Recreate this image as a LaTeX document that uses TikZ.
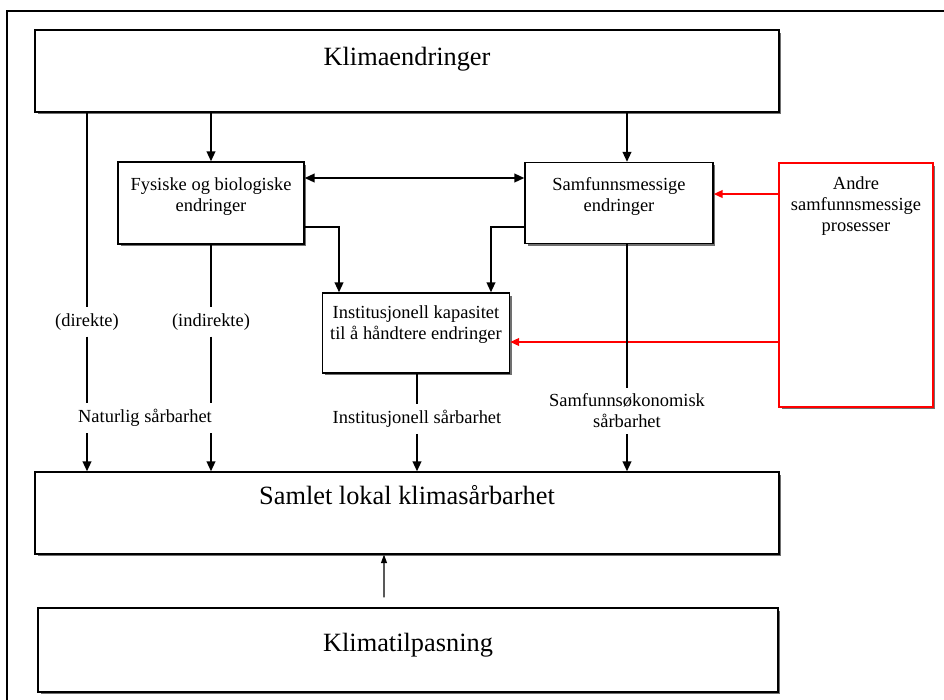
\documentclass[tikz,border=0pt]{standalone}
\usepackage{fontspec}
\setmainfont{Liberation Serif}
\usetikzlibrary{shadows}
\usetikzlibrary{arrows.meta}

\begin{document}
\begin{tikzpicture}
  [x=0.02cm,y=-0.02cm,
  box/.style={rectangle,draw=black,fill=white,line width=0.7pt,inner sep=0pt,align=center,
    drop shadow={shadow xshift=0.05cm,shadow yshift=-0.05cm,fill=black!70,opacity=0.8}},
  bigbox/.style={box,font=\fontsize{15}{18}\selectfont},
  smallbox/.style={box,font=\fontsize{10.5}{12}\selectfont},
  redbox/.style={smallbox,draw=red},
  lab/.style={font=\fontsize{10.5}{12}\selectfont,align=center,inner xsep=2pt,inner ysep=0.12cm},
  conn/.style={black,line width=1.2pt},
  arr/.style={conn,->,>={Triangle[length=0.2cm,width=0.17cm]}},
  redarr/.style={red,line width=1.2pt,->,>={Triangle[length=0.18cm,width=0.15cm]}},
  thinarr/.style={black,line width=0.6pt,->,>={Triangle[length=0.17cm,width=0.12cm]}}]
  \useasboundingbox (0,0) rectangle (944,700);
  \draw [line width=0.9pt] (7,700) -- (7,11) -- (944,11);

  \node[bigbox,minimum width=14.88cm,minimum height=1.64cm,text depth=0.6cm] (klima) at (407,71) {Klimaendringer};
  \node[smallbox,minimum width=3.72cm,minimum height=1.64cm,text depth=0.34cm] (fys) at (211,203) {Fysiske og biologiske\\endringer};
  \node[smallbox,minimum width=3.76cm,minimum height=1.62cm,text depth=0.34cm] (samf) at (619,203) {Samfunnsmessige\\endringer};
  \node[redbox,minimum width=3.08cm,minimum height=4.88cm,text depth=3.24cm] (andre) at (856,285) {Andre\\samfunnsmessige\\prosesser};
  \node[smallbox,minimum width=3.74cm,minimum height=1.6cm,text depth=0.4cm] (inst) at (416,333) {Institusjonell kapasitet\\til å håndtere endringer};
  \node[bigbox,minimum width=14.88cm,minimum height=1.64cm,text depth=0.72cm] (samlet) at (407,513) {Samlet lokal klimasårbarhet};
  \node[bigbox,minimum width=14.8cm,minimum height=1.68cm,text depth=0.32cm] (tilp) at (408,650) {Klimatilpasning};

  \node[lab] (direkte) at (87,322) {(direkte)};
  \node[lab] (indirekte) at (211,322) {(indirekte)};
  \node[lab] (naturlig) at (145,418) {Naturlig sårbarhet};
  \node[lab] (instsb) at (417,419) {Institusjonell sårbarhet};
  \node[lab] (sosok) at (627,411) {Samfunnsøkonomisk\\sårbarhet};

  \draw[arr] (klima.south -| fys) -- (fys.north);
  \draw[arr] (klima.south -| sosok) -- (samf.north -| sosok);
  \draw[conn] (klima.south -| direkte) -- (direkte.north);
  \draw[conn] (direkte.south) -- (direkte |- naturlig.north);
  \draw[arr] (direkte |- naturlig.south) -- (direkte |- samlet.north);
  \draw[conn] (fys.south) -- (indirekte.north);
  \draw[conn] (indirekte.south) -- (indirekte |- naturlig.north);
  \draw[arr] (indirekte |- naturlig.south) -- (indirekte |- samlet.north);
  \draw[arr,<->] ([yshift=0.5cm]fys.east) -- ([yshift=0.5cm]fys.east -| samf.west);
  \draw[arr] ([yshift=-0.48cm]fys.east) -| ([xshift=-1.54cm]inst.north);
  \draw[arr] ([yshift=-0.48cm]samf.west) -| ([xshift=1.5cm]inst.north);
  \draw[redarr] ([yshift=1.82cm]andre.west) -- ([yshift=1.82cm]andre.west -| samf.east);
  \draw[redarr] ([yshift=-1.14cm]andre.west) -- ([yshift=-1.14cm]andre.west -| inst.east);
  \draw[conn] (inst.south -| instsb) -- (instsb.north);
  \draw[arr] (instsb.south) -- (instsb |- samlet.north);
  \draw[conn] (samf.south -| sosok) -- (sosok.north);
  \draw[arr] (sosok.south) -- (sosok |- samlet.north);
  \draw[thinarr] ([xshift=-0.48cm,yshift=0.2cm]tilp.north) -- ([xshift=-0.46cm]samlet.south);
\end{tikzpicture}
\end{document}
